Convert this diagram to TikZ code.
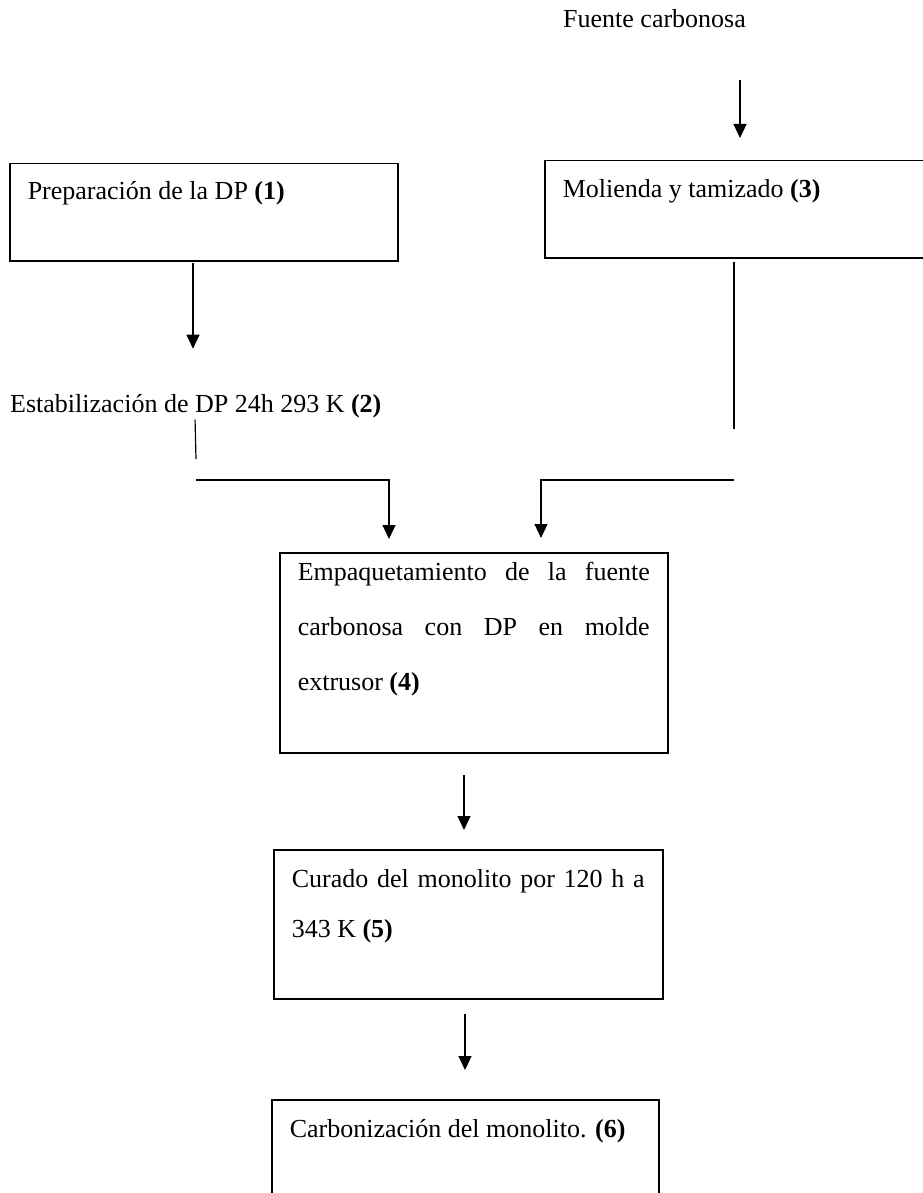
\documentclass[tikz,border=0pt]{standalone}
\usepackage{fontspec}
\setmainfont{Liberation Serif}
\usetikzlibrary{arrows.meta}
\tolerance=10000
\hbadness=10000

\begin{document}
\begin{tikzpicture}[x=1pt,y=-1pt,
    caja/.style={draw,line width=1.5pt,anchor=north west,inner xsep=18pt,inner ysep=0pt,
      align=justify,font=\fontsize{26}{#1}\selectfont},
    caja/.default=53,
    texto/.style={anchor=base west,inner sep=0pt,font=\fontsize{26}{53}\selectfont},
    linea/.style={line width=1.2pt},
    flecha/.style={line width=1.2pt,-{Triangle[length=14pt,width=13pt]}}]
  \useasboundingbox (0,0) rectangle (922,1193);
  \node[texto] (fuente) at (563,28) {Fuente carbonosa};
  \node[caja,text width=352pt,text height=36pt,text depth=61pt] (prep) at (9,163)
    {Preparación de la DP \textbf{(1)}}; % 1
  \node[texto] (estab) at (10,412) {Estabilización de DP 24h 293 K \textbf{(2)}}; % 2
  \node[caja,text width=364pt,text height=37pt,text depth=60pt] (mol) at (544,160)
    {Molienda y tamizado \textbf{(3)}}; % 3
  \node[caja=55,text width=352pt,text height=28pt,text depth=172pt] (emp) at (279,552)
    {Empaquetamiento de la fuente\linebreak carbonosa con DP en molde\linebreak extrusor \textbf{(4)}}; % 4
  \node[caja=50,text width=353pt,text height=38pt,text depth=111pt] (cur) at (273,849)
    {Curado del monolito por 120 h a\linebreak 343 K \textbf{(5)}}; % 5
  \node[caja,text width=351pt,text height=38pt,text depth=130pt] (carb) at (271,1099)
    {Carbonización del monolito. \textbf{(6)}}; % 6, sale de la hoja
  \coordinate (esqizq) at (196,480);
  \coordinate (codoizq) at (389,480);
  \coordinate (esqder) at (734,480);
  \coordinate (cododer) at (541,480);
  \draw[flecha,shorten <=52pt,shorten >=22pt] (fuente.south -| 740,0) -- (mol.north -| 740,0);
  \draw[flecha,shorten <=1pt,shorten >=45pt] (prep.south -| 193,0) -- (estab.north -| 193,0);
  \draw[linea,shorten <=2pt] (estab.south -| 195,0) -- ([yshift=21pt]esqizq);
  \draw[linea,shorten <=3pt] (mol.south -| esqder) -- ([yshift=51pt]esqder);
  \draw[flecha,shorten >=13pt] (esqizq) -- (codoizq) -- (codoizq |- emp.north);
  \draw[flecha,shorten >=14pt] (esqder) -- (cododer) -- (cododer |- emp.north);
  \draw[flecha,shorten <=21pt,shorten >=19pt] (emp.south -| 464,0) -- (cur.north -| 464,0);
  \draw[flecha,shorten <=14pt,shorten >=29pt] (cur.south -| 465,0) -- (carb.north -| 465,0);
\end{tikzpicture}
\end{document}
